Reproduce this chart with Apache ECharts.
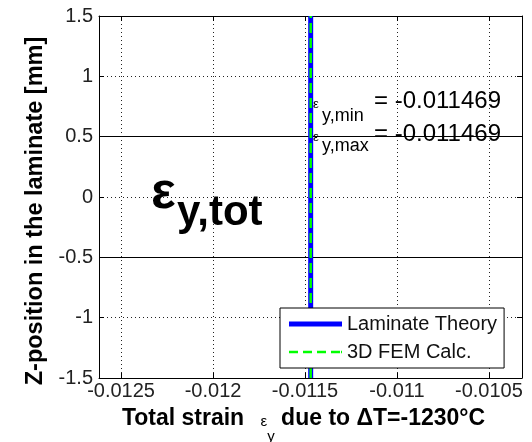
<!DOCTYPE html>
<html>
<head>
<meta charset="utf-8">
<script src="https://cdn.jsdelivr.net/npm/echarts@6/dist/echarts.min.js"></script>
<style>html,body{margin:0;padding:0;background:#fff}#c{width:532px;height:442px}</style>
</head>
<body>
<div id="c"></div>
<script>
// ---- data ----
const zPositions = [-1.5, -0.5, 0.5, 1.5];                 // mm
const laminateTheory = [-0.011469, -0.011469, -0.011469, -0.011469];
const femCalc = [-0.011469, -0.011469, -0.011469, -0.011469];
const layerBoundaries = [0.5, -0.5];
const xTicks = [-0.0125, -0.012, -0.0115, -0.011, -0.0105];
const xRange = [-0.01262, -0.01032];
const yRange = [-1.5, 1.5];
const seriesNames = ['Laminate Theory', '3D FEM Calc.'];

const F = '"Liberation Sans", Arial, sans-serif';
const epsMin = Math.min(...laminateTheory);
const epsMax = Math.max(...laminateTheory);

const chart = echarts.init(document.getElementById('c'));
const gridLine = {show: true, lineStyle: {color: '#222', type: [1, 3], width: 1}};
const boxLine = {show: true, onZero: false, lineStyle: {color: '#000', width: 1}};

const bluePath = 'path://M0,0H53V5H0Z';
const greenPath = 'path://M0,0H9V2.5H0Z M14,0H23V2.5H14Z M28,0H37V2.5H28Z M42,0H51V2.5H42Z M52,0H53V2.5H52Z';

chart.setOption({
  animation: false,
  grid: {left: 99, right: 10, top: 16, bottom: 64, containLabel: false, outerBoundsMode: 'none'},
  xAxis: [{
    type: 'value', min: xRange[0], max: xRange[1], position: 'bottom',
    axisLine: boxLine,
    axisTick: {show: true, inside: true, length: 5, customValues: xTicks, lineStyle: {color: '#000'}},
    axisLabel: {customValues: xTicks, color: '#222', fontFamily: F, fontSize: 20, margin: 3,
      formatter: v => String(v)},
    splitLine: gridLine,
    name: '{a|Total strain }{e|ε}{s|y}{a| due to ΔT=-1230°C}',
    nameLocation: 'middle', nameGap: 29,
    nameTextStyle: {padding: [0, 14, 0, 0], rich: {
      a: {fontFamily: F, fontSize: 23, lineHeight: 23, fontWeight: 'bold', color: '#000', verticalAlign: 'top'},
      e: {fontFamily: F, fontSize: 15, lineHeight: 15, color: '#000', verticalAlign: 'top', padding: [7, 0, 0, 10]},
      s: {fontFamily: F, fontSize: 15, lineHeight: 15, color: '#000', verticalAlign: 'top', padding: [22, 0, 0, 0]}
    }}
  }, {
    type: 'value', min: xRange[0], max: xRange[1], position: 'top',
    axisLine: boxLine,
    axisTick: {show: true, inside: true, length: 5, customValues: xTicks, lineStyle: {color: '#000'}},
    axisLabel: {show: false}, splitLine: {show: false}
  }],
  yAxis: [{
    type: 'value', min: yRange[0], max: yRange[1], interval: 0.5, position: 'left',
    axisLine: boxLine,
    axisTick: {show: true, inside: true, length: 5, lineStyle: {color: '#000'}},
    axisLabel: {color: '#222', fontFamily: F, fontSize: 20, margin: 6},
    splitLine: gridLine
  }, {
    type: 'value', min: yRange[0], max: yRange[1], interval: 0.5, position: 'right',
    axisLine: boxLine,
    axisTick: {show: true, inside: true, length: 5, lineStyle: {color: '#000'}},
    axisLabel: {show: false}, splitLine: {show: false}
  }],
  legend: {
    z: 10,
    data: [{name: seriesNames[0], icon: bluePath, itemStyle: {color: '#0000ff'}},
           {name: seriesNames[1], icon: greenPath, itemStyle: {color: '#00ff00'}}],
    orient: 'vertical', left: 280, top: 308,
    backgroundColor: '#fff', borderColor: '#000', borderWidth: 1,
    padding: [6, 7, 6, 9], itemWidth: 53, itemHeight: 20, itemGap: 8,
    textStyle: {fontFamily: F, fontSize: 20, color: '#111'}
  },
  series: [{
    name: seriesNames[0], type: 'line', symbol: 'none', z: 3,
    data: zPositions.map((z, i) => [laminateTheory[i], z]),
    lineStyle: {color: '#0000ff', width: 5}, itemStyle: {color: '#0000ff'},
    markLine: {
      silent: true, symbol: 'none', label: {show: false}, z: 2,
      lineStyle: {color: '#000', type: 'solid', width: 1},
      data: layerBoundaries.map(v => ({yAxis: v}))
    }
  }, {
    name: seriesNames[1], type: 'line', symbol: 'none', z: 4,
    data: zPositions.map((z, i) => [femCalc[i], z]),
    lineStyle: {color: '#00ff00', width: 2.5, type: [10, 5]}, itemStyle: {color: '#00ff00'}
  }],
  graphic: [
    {type: 'text', x: 36, y: 211, rotation: Math.PI / 2, z: 10,
     style: {text: 'Z-position in the laminate [mm]', font: 'bold 23.5px ' + F, fill: '#000',
             align: 'center', verticalAlign: 'middle'}},
    {type: 'text', left: 313, top: 98, z: 10, style: {text: 'ε', font: '13px ' + F, fill: '#000'}},
    {type: 'text', left: 322, top: 107, z: 10, style: {text: 'y,min', font: '18px ' + F, fill: '#000'}},
    {type: 'text', left: 374, top: 89, z: 10, style: {text: '= ' + epsMin.toFixed(6), font: '24px ' + F, fill: '#000'}},
    {type: 'text', left: 313, top: 131, z: 10, style: {text: 'ε', font: '13px ' + F, fill: '#000'}},
    {type: 'text', left: 322, top: 137, z: 10, style: {text: 'y,max', font: '18px ' + F, fill: '#000'}},
    {type: 'text', left: 374, top: 122, z: 10, style: {text: '= ' + epsMax.toFixed(6), font: '24px ' + F, fill: '#000'}},
    {type: 'text', left: 151, top: 168, z: 10, style: {text: 'ε', font: 'bold 52px ' + F, fill: '#000'}},
    {type: 'text', left: 177, top: 192, z: 10, style: {text: 'y,tot', font: 'bold 42px ' + F, fill: '#000'}}
  ]
});
</script>
</body>
</html>
